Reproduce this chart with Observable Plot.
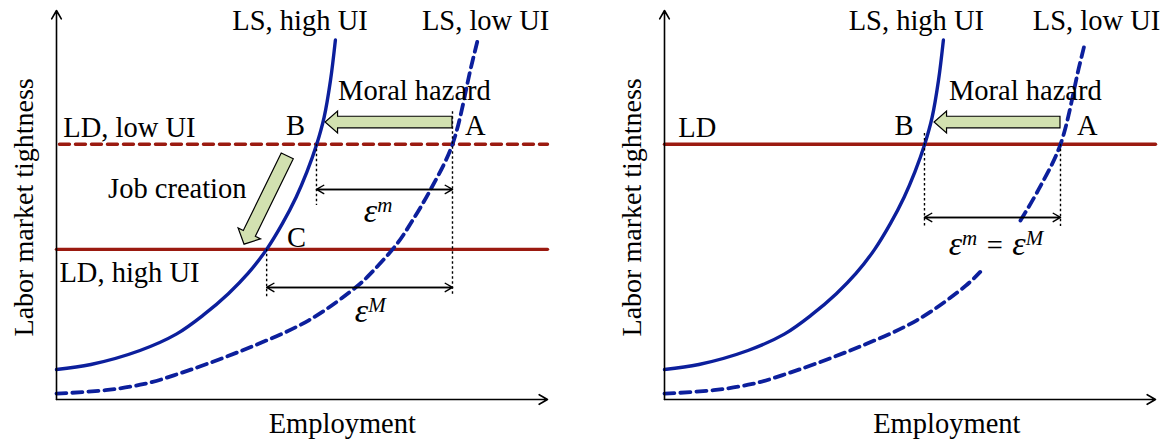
<!DOCTYPE html>
<html><head><meta charset="utf-8">
<script src="https://cdn.jsdelivr.net/npm/d3@7"></script>
<script src="https://cdn.jsdelivr.net/npm/@observablehq/plot@0.6"></script>
<style>
html,body{margin:0;padding:0;background:#fff;}
#wrap{display:flex;width:1167px;height:444px;}
#wrap svg{display:block;flex:none;}
</style></head><body><div id="wrap"></div>
<script>
// ---------- data (employment 0-100, labor market tightness 0-100) ----------
const lsHighX = [0, 7, 17, 24.4, 30, 35, 39, 42.8, 46, 48.8, 51, 53, 54.5, 55.8, 56.8];
const lsHighY = [7.7, 9, 12.6, 16.8, 21.8, 27.2, 32.4, 38.6, 45.2, 52, 58.5, 65.6, 72.5, 82, 92.4];

const lsLowX = [0, 10, 17.9, 23.9, 37.8, 51.3, 61.4, 64.3, 69.4, 72.5, 76.2, 80.65, 84.4, 85.7];
const lsLowY = [1.5, 2.4, 4.0, 6.2, 12.6, 20.3, 29.3, 32.8, 40.1, 46, 54, 65.6, 85.3, 92];

// right panel: the dashed curve is interrupted around the label
const lsLowRightX = [0, 10, 17.9, 23.9, 37.8, 51.3, 61.4, 64.3, null, 72.5, 76.2, 80.65, 84.4, 85.7];
const lsLowRightY = [1.5, 2.4, 4.0, 6.2, 12.6, 20.3, 29.3, 32.8, null, 46, 54, 65.6, 85.3, 92];

const ldLowUI = 65.6;
const ldHighUI = 38.6;
const ldRight = 65.6;

const axesLines = [{x1: 0, y1: 0, x2: 100, y2: 0}, {x1: 0, y1: 0, x2: 0, y2: 100}];

const guidesLeft = [{x: 52.95, y1: 65.6, y2: 49.9}, {x: 80.65, y1: 74, y2: 26.7}, {x: 42.8, y1: 38.6, y2: 26.2}];
const guidesRight = [{x: 52.95, y1: 68.4, y2: 44}, {x: 80.65, y1: 65.6, y2: 44.5}];

const spansLeft = [{x1: 52.95, x2: 80.65, y: 54.0}, {x1: 42.8, x2: 80.65, y: 28.8}];
const spansRight = [{x1: 52.95, x2: 80.65, y: 46.8}];

const moralHazardLeft = [{x1: 80.65, y1: 71.2, x2: 54.8, y2: 71.2}];
const jobCreationLeft = [{x1: 47.1, y1: 62.5, x2: 38.3, y2: 39.8}];
const moralHazardRight = [{x1: 80.65, y1: 71.2, x2: 55.0, y2: 71.2}];

const labelsLeftMid = [
  {text: "LS, high UI", x: 49.6, y: 95.1},
  {text: "LS, low UI", x: 87.4, y: 95.1},
  {text: "Moral hazard", x: 72.9, y: 76.9},
  {text: "B", x: 48.7, y: 67.9},
  {text: "A", x: 85.3, y: 67.9},
  {text: "C", x: 48.9, y: 39.1},
  {text: "Job creation", x: 24.6, y: 51.9}
];
const labelsLeftStart = [
  {text: "LD, low UI", x: 1.4, y: 67.6},
  {text: "LD, high UI", x: 0.6, y: 30.3}
];
const labelsRightMid = [
  {text: "LS, high UI", x: 51.3, y: 95.1},
  {text: "LS, low UI", x: 88.0, y: 95.1},
  {text: "Moral hazard", x: 73.5, y: 76.9},
  {text: "B", x: 48.8, y: 67.9},
  {text: "A", x: 86.1, y: 67.9}
];
const labelsRightStart = [{text: "LD", x: 2.8, y: 67.6}];

const epsLeft = [
  {x: 65.6, y: 45.5, parts: [["ε", 0], ["m", 1]]},
  {x: 64.0, y: 19.8, parts: [["ε", 0], ["M", 1]]}
];
const epsRight = [
  {x: 67.6, y: 37.0, parts: [["ε", 0], ["m", 1], ["\u2004=\u2004", 0, "normal"], ["ε", 0], ["M", 1]]}
];

const xTitle = "Employment";
const yTitle = "Labor market tightness";

// ---------- helpers ----------
const NS = "http://www.w3.org/2000/svg";
const BLUE = "#0c1f9c";
const RED = "#9b1a10";
const GREEN = "#d2e1b0";
const FONT = "Liberation Serif";
const FS = 28.5;
const pts = (xs, ys) => xs.map((x, i) => ({x, y: ys[i]}));

function blockArrows(list, body, head, len) {
  return (index, scales) => {
    const g = document.createElementNS(NS, "g");
    for (const d of list) {
      const x1 = scales.x(d.x1), y1 = scales.y(d.y1), x2 = scales.x(d.x2), y2 = scales.y(d.y2);
      const L = Math.hypot(x2 - x1, y2 - y1);
      const ux = (x2 - x1) / L, uy = (y2 - y1) / L, nx = -uy, ny = ux;
      const bx = x2 - ux * len, by = y2 - uy * len;
      const p = [
        [x1 + nx * body, y1 + ny * body], [bx + nx * body, by + ny * body], [bx + nx * head, by + ny * head],
        [x2, y2],
        [bx - nx * head, by - ny * head], [bx - nx * body, by - ny * body], [x1 - nx * body, y1 - ny * body]
      ];
      const poly = document.createElementNS(NS, "polygon");
      poly.setAttribute("points", p.map(q => q.join(",")).join(" "));
      poly.setAttribute("fill", GREEN);
      poly.setAttribute("stroke", "#000");
      poly.setAttribute("stroke-width", "1.2");
      poly.setAttribute("stroke-linejoin", "miter");
      g.appendChild(poly);
    }
    return g;
  };
}

function mathLabels(list) {
  return (index, scales) => {
    const g = document.createElementNS(NS, "g");
    for (const d of list) {
      const t = document.createElementNS(NS, "text");
      t.setAttribute("x", scales.x(d.x));
      t.setAttribute("y", scales.y(d.y));
      t.setAttribute("text-anchor", "middle");
      t.setAttribute("font-family", FONT);
      t.setAttribute("font-size", "34");
      t.setAttribute("font-style", "italic");
      t.setAttribute("fill", "#000");
      let level = 0;
      for (const [s, sup, style] of d.parts) {
        const ts = document.createElementNS(NS, "tspan");
        const dy = (sup - level) * -10;
        if (dy) ts.setAttribute("dy", dy);
        level = sup;
        if (sup) ts.setAttribute("font-size", "21");
        else if (style) ts.setAttribute("font-size", String(FS));
        if (style) ts.setAttribute("font-style", style);
        ts.textContent = s;
        t.appendChild(ts);
      }
      g.appendChild(t);
    }
    return g;
  };
}

function panel(o) {
  return Plot.plot({
    width: 583,
    height: 444,
    marginLeft: o.marginLeft,
    marginRight: o.marginRight,
    marginTop: 10,
    marginBottom: 45,
    x: {domain: [0, 100], axis: null},
    y: {domain: [0, 100], axis: null},
    style: {fontFamily: FONT, background: "white", color: "black", overflow: "visible"},
    marks: [
      ...o.ld.map(l => Plot.lineY([{x: l.from, y: l.y}, {x: 100, y: l.y}], {
        x: "x", y: "y", stroke: RED, strokeWidth: 3.4, strokeDasharray: l.dashed ? "10,6" : null
      })),
      Plot.line(pts(lsHighX, lsHighY), {x: "x", y: "y", stroke: BLUE, strokeWidth: 3.4, curve: "catmull-rom"}),
      Plot.line(o.low, {x: "x", y: "y", stroke: BLUE, strokeWidth: 3.8, strokeDasharray: "10,6", curve: "catmull-rom"}),
      Plot.ruleX(o.guides, {x: "x", y1: "y1", y2: "y2", stroke: "black", strokeWidth: 1.4, strokeDasharray: "2.5,2.5"}),
      Plot.arrow(o.spans, {x1: "x1", x2: "x2", y1: "y", y2: "y", stroke: "black", strokeWidth: 1.4, headLength: 9, headAngle: 60}),
      Plot.arrow(o.spans, {x1: "x2", x2: "x1", y1: "y", y2: "y", stroke: "black", strokeWidth: 1.4, headLength: 9, headAngle: 60}),
      Plot.arrow(axesLines, {x1: "x1", y1: "y1", x2: "x2", y2: "y2", stroke: "black", strokeWidth: 1.6, headLength: 9, headAngle: 60}),
      ...o.blocks,
      Plot.text(o.mid, {x: "x", y: "y", text: "text", fontSize: FS, fontFamily: FONT, textAnchor: "middle", lineAnchor: "bottom", fill: "black"}),
      Plot.text(o.start, {x: "x", y: "y", text: "text", fontSize: FS, fontFamily: FONT, textAnchor: "start", lineAnchor: "bottom", fill: "black"}),
      Plot.text([xTitle], {x: o.xTitleX, y: -8.7, text: d => d, fontSize: FS, fontFamily: FONT, textAnchor: "middle", lineAnchor: "bottom", fill: "black"}),
      Plot.text([yTitle], {x: -6.7, y: 49.4, text: d => d, rotate: -90, fontSize: 28, fontFamily: FONT, textAnchor: "middle", lineAnchor: "middle", fill: "black"}),
      mathLabels(o.eps)
    ]
  });
}

const left = panel({
  marginLeft: 56, marginRight: 36,
  ld: [{y: ldLowUI, from: 0.6, dashed: true}, {y: ldHighUI, from: 0, dashed: false}],
  low: pts(lsLowX, lsLowY),
  guides: guidesLeft,
  spans: spansLeft,
  blocks: [blockArrows(moralHazardLeft, 5.8, 11, 12.5), blockArrows(jobCreationLeft, 6.7, 12.5, 12)],
  mid: labelsLeftMid,
  start: labelsLeftStart,
  xTitleX: 58.2,
  eps: epsLeft
});
const right = panel({
  marginLeft: 81, marginRight: 11,
  ld: [{y: ldRight, from: 0, dashed: false}],
  low: pts(lsLowRightX, lsLowRightY),
  guides: guidesRight,
  spans: spansRight,
  blocks: [blockArrows(moralHazardRight, 5.8, 11, 12.5)],
  mid: labelsRightMid,
  start: labelsRightStart,
  xTitleX: 57.5,
  eps: epsRight
});
document.getElementById("wrap").append(left, right);
</script></body></html>
